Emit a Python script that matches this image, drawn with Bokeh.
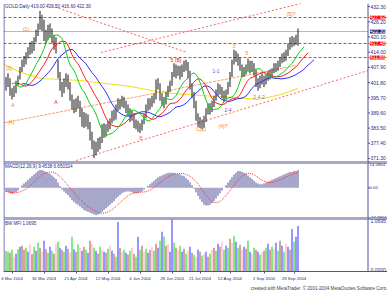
from bokeh.plotting import figure
from bokeh.layouts import column
from bokeh.models import Label, Range1d, Span, ColumnDataSource, Title, FixedTicker
from bokeh.embed import file_html
from bokeh.resources import INLINE
from bokeh.core.properties import value

FONT = "Liberation Sans"
NAVY = "#2b2b80"
AXIS = "#50509a"

# ---------------- data ----------------
high = [404.0, 405.5, 403.5, 399.5, 400.5, 402.5, 404.5, 408.0, 411.0, 412.5,
        414.0, 416.0, 418.0, 418.5, 420.0, 423.0, 425.5, 430.5, 429.0, 427.0,
        423.0, 425.0, 425.5, 423.5, 421.0, 420.0, 411.0, 406.0, 402.0, 403.5,
        405.5, 405.0, 402.0, 397.0, 395.0, 395.5, 396.5, 394.5, 391.5, 390.0,
        389.5, 389.0, 386.0, 382.0, 378.5, 378.0, 379.5, 380.0, 385.0, 385.5,
        385.0, 386.5, 387.5, 390.5, 391.0, 393.0, 395.5, 395.0, 396.5, 396.0,
        394.5, 393.0, 391.5, 390.5, 389.5, 387.0, 386.5, 385.5, 387.0, 389.5,
        393.0, 395.5, 395.5, 396.5, 397.5, 403.0, 403.5, 401.5, 397.5, 396.0,
        398.0, 400.5, 402.5, 406.0, 409.5, 409.0, 408.5, 408.5, 409.0, 410.5,
        411.0, 410.0, 406.5, 401.5, 398.0, 394.5, 389.5, 388.0, 387.0, 388.5,
        391.5, 393.5, 393.5, 394.5, 396.5, 399.0, 401.5, 401.0, 400.0, 398.5,
        399.0, 402.0, 406.0, 411.0, 415.0, 414.5, 413.5, 412.0, 409.0, 408.0,
        409.0, 411.5, 410.5, 410.5, 409.5, 407.0, 403.5, 404.5, 405.5, 404.5,
        405.0, 406.5, 407.0, 407.5, 409.5, 409.5, 410.5, 412.0, 413.5, 414.0,
        415.0, 417.5, 420.0, 420.5, 420.0, 421.0, 423.5]
low = [398.5, 400.0, 396.5, 395.0, 396.0, 397.5, 400.5, 403.0, 406.0, 408.0,
       409.0, 411.5, 413.0, 413.5, 414.5, 418.0, 420.5, 423.0, 422.5, 418.5,
       417.5, 419.0, 420.0, 417.5, 415.0, 413.5, 403.5, 398.5, 396.0, 397.5,
       400.0, 399.0, 394.5, 391.0, 389.5, 390.0, 391.5, 388.0, 384.0, 383.5,
       384.0, 383.0, 378.5, 375.0, 371.5, 372.5, 374.0, 375.0, 377.5, 379.5,
       380.0, 382.0, 383.0, 385.5, 386.5, 387.0, 390.5, 391.0, 392.0, 391.5,
       389.5, 388.5, 386.0, 386.5, 383.5, 383.0, 382.0, 381.5, 382.5, 385.0,
       387.5, 390.5, 391.0, 392.0, 393.5, 395.0, 399.0, 394.5, 392.5, 391.5,
       393.0, 396.0, 398.0, 400.5, 404.0, 403.5, 404.5, 403.0, 404.0, 406.0,
       406.5, 403.5, 399.0, 395.5, 391.5, 386.5, 384.0, 383.5, 383.0, 383.5,
       386.0, 389.0, 389.0, 390.0, 392.0, 394.5, 396.5, 397.0, 395.5, 394.0,
       395.0, 397.0, 400.0, 404.0, 409.0, 410.0, 408.5, 406.5, 404.0, 404.0,
       405.0, 406.5, 405.5, 406.0, 404.5, 400.0, 398.5, 399.5, 401.0, 400.0,
       401.0, 402.5, 403.0, 403.5, 405.5, 406.0, 406.5, 408.0, 409.5, 410.0,
       410.5, 412.5, 415.0, 416.0, 416.5, 417.0, 416.6]

macd = [-2.0, -2.5, -3.0, -3.5, -3.0, -2.5, -1.5, 0.0, 1.5, 2.5,
        3.5, 4.5, 5.5, 6.5, 7.5, 8.5, 9.5, 10.0, 10.0, 9.5,
        9.0, 8.5, 8.0, 7.0, 6.0, 5.0, 3.0, 1.0, -1.0, -2.0,
        -3.0, -4.0, -5.5, -7.0, -8.0, -9.0, -9.5, -10.5, -11.5, -12.5,
        -13.0, -13.5, -14.0, -14.5, -15.0, -15.5, -15.0, -14.5, -13.5, -12.5,
        -11.5, -10.5, -9.5, -8.5, -7.5, -6.0, -5.0, -4.0, -3.0, -2.5,
        -2.0, -2.0, -2.0, -2.5, -3.0, -3.0, -3.0, -2.5, -2.0, -1.0,
        0.0, 1.0, 2.0, 3.0, 4.0, 5.0, 6.0, 6.5, 7.0, 7.5,
        8.0, 8.5, 8.5, 8.5, 8.5, 8.0, 8.0, 7.5, 7.0, 6.5,
        5.5, 4.5, 3.0, 1.5, -0.5, -2.5, -4.5, -6.5, -8.0, -9.5,
        -10.0, -10.0, -9.5, -8.5, -7.5, -6.0, -4.5, -3.0, -1.5, 0.0,
        1.5, 3.0, 4.5, 6.0, 7.5, 8.5, 9.5, 9.5, 9.0, 8.5,
        8.0, 7.0, 6.0, 5.0, 4.0, 3.0, 2.5, 2.0, 2.0, 2.5,
        3.0, 3.5, 4.0, 4.5, 5.0, 5.5, 6.0, 6.5, 7.0, 7.5,
        8.0, 8.5, 9.0, 9.0, 9.5, 9.5, 10.0]

mfi = [.42, .40, .38, .44, .30, .36, .45, .50, .52, .44,
       .48, .40, .55, .35, .50, .42, .58, .48, .40, .62,
       .45, .38, .50, .42, .36, .55, .60, .48, .44, .40,
       .52, .46, .38, .70, .45, .40, .55, .48, .42, .50,
       .44, .38, .62, .56, .48, .42, .36, .50, .44, .40,
       .38, .46, .52, .42, .36, .30, 1.00, .48, .40, .44,
       .38, .34, .42, .48, .36, .30, .70, .44, .52, .40,
       .46, .38, .44, .50, .42, .56, .48, .62, .80, .70,
       .52, .56, .40, 1.05, .58, .48, .44, .52, .40, .46,
       .36, .42, .50, .38, .34, .30, .44, .40, .32, .36,
       .40, .30, .36, .44, .48, .42, .56, .50, .60, .44,
       .52, .48, .66, .58, .72, .60, .48, .54, .44, .50,
       .46, .62, .40, .36, .48, .44, .40, .34, .38, .42,
       .48, .56, .44, .50, .46, .58, .42, .62, .52, .40,
       .56, .50, .44, .86, .60, .70, .92]
mfi_kind = ("ggfgsbgbff" "gbsfgbgfsb" "fgbgfsgbfg" "bfsgbfgsbf" "gbfsgbfgsb"
            "fgsbfgbfsg" "bfgsfgbgfs" "gbfsgfbgbg" "fsbbgfsgbf" "gsbfgsbfgs"
            "bfgsfgbfsg" "bgfsgbgfsb" "fgbsgfbgsf" "gbfgsbgfbg" "sbfbgbb")

price_ticks = [432.30, 426.20, 420.10, 414.00, 407.90, 401.80, 395.70, 389.60, 383.50, 377.40, 371.30]
price_range = [369.69, 433.54]
hline_levels = [427.92, 417.48, 411.86]
bid = 422.30
macd_range = [-17.2864, 14.2864]
mfi_range = [0.0, 1.0695]

date_ticks = [3, 19, 35, 51, 67, 83, 97, 112, 129, 144]
date_labels = ["6 Mar 2004", "30 Mar 2004", "21 Apr 2004", "12 May 2004", "4 Jun 2004",
               "28 Jun 2004", "21 Jul 2004", "12 Aug 2004", "2 Sep 2004", "28 Sep 2004"]

yellow_x = [-1, 7.5, 17.5, 37.5, 62.5, 77.5, 97.5, 115, 126, 137.5, 146]
yellow_y = [409.05, 405.83, 403.42, 402.62, 400.21, 397.80, 396.60, 395.79, 394.99, 397.0, 399.41]

trend_x = [[15, 90], [47.5, 147.5], [35, 181]]
trend_y = [[434.75, 414.0], [413.87, 433.54], [370.5, 406.6]]
orange_x = [-2.5, 145]
orange_y = [385.35, 408.65]

wave_text = ["(5)?", "(1)", "5", "(3)", "A", "(4)", "A", "5 (B)", "3", "5", "1-1",
             "B", "C(2)", "(4)?", "2-4", "2,4-2"]
wave_x = [142.5, 10, 24, 1.5, 3.5, 2.5, 25, 85, 114, 120.5, 105, 67.5, 97.5, 108.5, 111, 126.5]
wave_y = [429.5, 423.5, 417.5, 407.8, 392.6, 385.8, 393.8, 411.0, 416.5, 413.5, 406.6,
          379.7, 383.3, 384.5, 390.6, 395.8]
wave_color = ["#ff8000", "#ff8000", "#e02020", "#ff8000", "#ff8000", "#ff8000", "#e02020",
              "#e02020", "#ff8000", "#ff8000", "#9040c0", "#ff8000", "#ff8000", "#ff8000",
              "#9040c0", "#c07030"]

# ---------------- indicators ----------------
n = len(high)
idx = list(range(n))


def smma(v, k):
    out, s = [], v[0]
    for x in v:
        s = (s * (k - 1) + x) / k
        out.append(s)
    return out


median = [(h + l) / 2 for h, l in zip(high, low)]
jaw, teeth, lips = smma(median, 13), smma(median, 8), smma(median, 5)
signal = [sum(macd[max(0, i - 8):i + 1]) / len(macd[max(0, i - 8):i + 1]) for i in range(n)]

kind_color = {"g": "#10d010", "b": "#3030ff", "f": "#a0522d", "s": "#ffa0c0"}
mfi_colors = [kind_color[c] for c in mfi_kind]

X0, X1 = -1.25, 190.75          # frame spans the full width; price scale drawn inside
AXX = 181.0                      # position of the price-scale line (x = 367 px)
LBLX = 182.25                    # scale labels start (x = 370 px)
LBLX_M = 181.75                  # MACD scale labels start (x = 369 px)
xr = Range1d(X0, X1)


def make_fig(h, yr, top, bottom, xaxis=False):
    f = figure(width=387, height=h, x_range=xr, y_range=Range1d(*yr),
               output_backend="svg", toolbar_location=None,
               x_axis_location="below" if xaxis else None, y_axis_location=None,
               min_border_left=3, min_border_right=0, min_border_top=top,
               min_border_bottom=bottom, title=None)
    f.grid.visible = False
    f.outline_line_color = None
    f.background_fill_color = "white"
    f.border_fill_color = "white"
    f.add_layout(Span(location=-1.0, dimension="height", line_color=AXIS, line_width=1))
    f.add_layout(Span(location=AXX, dimension="height", line_color=AXIS, line_width=1))
    return f


def scale(f, ticks, texts, baselines, size="5px", lx=LBLX):
    f.segment(x0=[AXX] * len(ticks), x1=[AXX + 1.0] * len(ticks), y0=ticks, y1=ticks,
              line_color=AXIS, line_width=1)
    src = ColumnDataSource(dict(x=[lx] * len(ticks), y=ticks, t=texts, b=baselines))
    f.text(x="x", y="y", text="t", text_baseline="b", source=src, text_font=value(FONT),
           text_font_size=size, text_color=NAVY, text_align="left")


def box(f, y, text, color):
    f.add_layout(Label(x=LBLX - 0.25, y=y, text=text, text_font=FONT, text_font_size="5px",
                       text_color="white", text_baseline="middle",
                       background_fill_color=color))


# ---------------- price panel ----------------
p1 = make_fig(162, price_range, 3, 0)
p1.add_layout(Span(location=price_range[0], dimension="width", line_color=AXIS, line_width=2))

for lv in hline_levels:
    p1.line([X0, X1], [lv, lv], line_color="#ff3030", line_dash="3 2", line_width=1)
p1.line([X0, AXX], [bid, bid], line_color="#b8b8b8", line_width=1)

for tx, ty in zip(trend_x, trend_y):
    p1.line(tx, ty, line_color="#ff6060", line_dash="2 2", line_width=1)
p1.line(orange_x, orange_y, line_color="#f4a070", line_dash="3 1", line_width=1)
p1.line(yellow_x, yellow_y, line_color="#f0e020", line_width=1.2)

p1.quad(left=[i - 0.25 for i in idx], right=[i + 0.25 for i in idx], top=high, bottom=low,
        fill_color="#181818", line_color=None)

p1.line([i + 8 for i in idx], jaw, line_color="#3030ff", line_width=1)
p1.line([i + 5 for i in idx], teeth, line_color="#ff2020", line_width=1)
p1.line([i + 3 for i in idx], lips, line_color="#10d010", line_width=1)

wsrc = ColumnDataSource(dict(x=wave_x, y=wave_y, t=wave_text, c=wave_color))
p1.text(x="x", y="y", text="t", text_color="c", source=wsrc, text_font=value(FONT),
        text_font_size="5px", text_align="center", text_baseline="middle")

p1.add_layout(Label(x=-0.5, y=432.3, text="GOLD,Daily  419.00 423.50 416.60 422.30",
                    text_font=FONT, text_font_size="4.6px", text_color=NAVY,
                    text_baseline="middle"))

scale(p1, price_ticks, [f"{t:.2f}" for t in price_ticks], ["middle"] * len(price_ticks))
for lv in hline_levels:
    box(p1, lv, f"{lv:.2f}", "#ff0000")
box(p1, bid, f"{bid:.2f}", "#202070")

# ---------------- MACD panel ----------------
p2 = make_fig(56, macd_range, 0, 0)
p2.add_layout(Span(location=macd_range[1], dimension="width", line_color=AXIS, line_width=2))
p2.add_layout(Span(location=macd_range[0], dimension="width", line_color=AXIS, line_width=2))
p2.vbar(x=idx, top=macd, bottom=0, width=0.5, fill_color="#50509a", line_color=None)
p2.line(idx, signal, line_color="#ff3030", line_dash="1 1", line_width=1)
p2.add_layout(Label(x=-0.5, y=13.3, text="MACD(12,26,9)  9.4538  6.650324",
                    text_font=FONT, text_font_size="4.6px", text_color=NAVY,
                    text_baseline="top"))
scale(p2, [macd_range[1], 0.0, macd_range[0]],
      [f"{macd_range[1]:.4f}", "0.00", f"{macd_range[0]:.4f}"], ["top", "middle", "bottom"],
      size="4.3px", lx=LBLX_M)

# ---------------- BW MFI panel ----------------
p3 = make_fig(72, mfi_range, 0, 18, xaxis=True)
p3.add_layout(Span(location=mfi_range[1], dimension="width", line_color=AXIS, line_width=2))
p3.vbar(x=idx, top=mfi, bottom=0, width=0.5, fill_color=mfi_colors, line_color=None)
p3.add_layout(Label(x=-0.5, y=1.02, text="BW MFI  1.0695",
                    text_font=FONT, text_font_size="4.5px", text_color=NAVY,
                    text_baseline="top"))
scale(p3, [mfi_range[1], mfi_range[0]], [f"{mfi_range[1]:.4f}", f"{mfi_range[0]:.4f}"],
      ["top", "bottom"])

xa = p3.xaxis[0]
xa.ticker = FixedTicker(ticks=date_ticks)
xa.major_label_overrides = {t: s for t, s in zip(date_ticks, date_labels)}
xa.major_label_text_font = FONT
xa.major_label_text_font_size = "4.3px"
xa.major_label_text_color = NAVY
xa.major_label_standoff = 2
xa.major_tick_out = 2
xa.major_tick_in = 0
xa.minor_tick_line_color = None
xa.axis_line_color = AXIS
xa.major_tick_line_color = AXIS

p3.add_layout(Title(text="created with MetaTrader, \u00a9 2001-2004 MetaQuotes Software Corp.",
                    align="right", text_font=FONT, text_font_size="4.6px",
                    text_font_style="normal", text_color="#404040", standoff=0, offset=0),
              "below")

layout = column(p1, p2, p3)
open("out.html", "w").write(file_html(layout, INLINE))
